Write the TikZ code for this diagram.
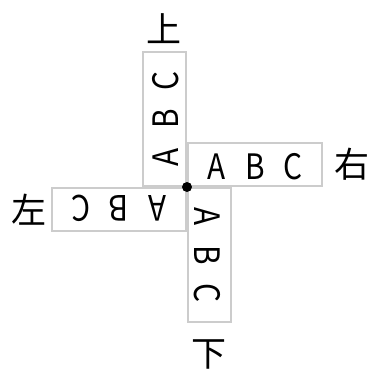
\documentclass[tikz,border=0pt]{standalone}
\usepackage{fontspec}
\usepackage{tikz}
\usetikzlibrary{positioning}
\newfontfamily\cjkfont{Noto Sans CJK SC}
\newfontfamily\narrowfont[FakeStretch=0.85]{Noto Sans CJK SC}
\newcommand{\spacedabc}{\narrowfont\makebox[38pt]{A}\makebox[38pt]{B}\makebox[38pt]{C}}

\begin{document}
\begin{tikzpicture}[
    every node/.style={font=\cjkfont\fontsize{35pt}{35pt}\selectfont},
    letterbox/.style={draw=gray!40, line width=2pt, anchor=south west,
                      minimum width=134pt, minimum height=43pt,
                      inner sep=0pt, text height=29pt, text depth=0pt},
    dirlabel/.style={inner sep=0pt},
  ]
    \useasboundingbox (-187pt,-183pt) rectangle (181pt,187pt);
    \coordinate (origin) at (0,0);

    \node[letterbox, rotate=0]   (box-right) at (origin) {\spacedabc};
    \node[letterbox, rotate=90]  (box-up)    at (origin) {\spacedabc};
    \node[letterbox, rotate=180] (box-left)  at (origin) {\spacedabc};
    \node[letterbox, rotate=270] (box-down)  at (origin) {\spacedabc};

    \node[dirlabel, above=7pt of box-up.east]     (lbl-up)    {上};
    \node[dirlabel, right=11pt of box-right.east] (lbl-right) {右};
    \node[dirlabel, left=4pt of box-left.east]    (lbl-left)  {左};
    \node[dirlabel, below=16pt of box-down.east]  (lbl-down)  {下};

    \fill (origin) circle (5pt);
\end{tikzpicture}
\end{document}
